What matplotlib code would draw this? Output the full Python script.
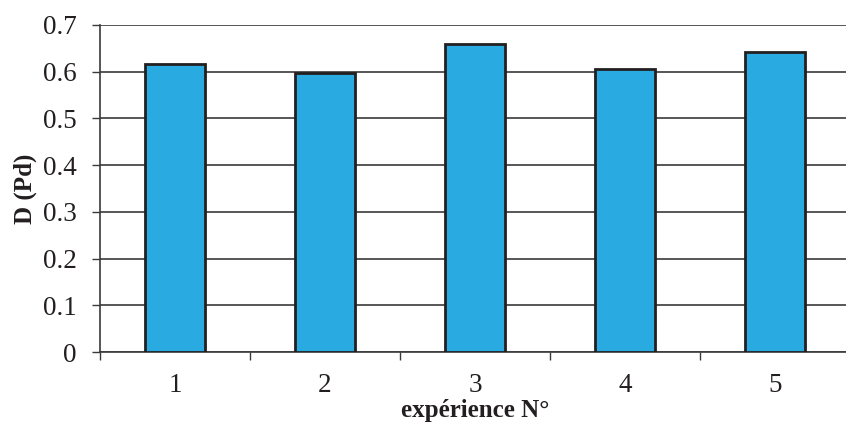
import numpy as np
import matplotlib
matplotlib.use("Agg")
import matplotlib.pyplot as plt

experiences = ["1", "2", "3", "4", "5"]
d_values = [0.616, 0.597, 0.659, 0.606, 0.642]
y_ticks = [0, 0.1, 0.2, 0.3, 0.4, 0.5, 0.6, 0.7]

plt.rcParams['font.family'] = ['Liberation Serif', 'DejaVu Serif']

fig = plt.figure(figsize=(8.46, 4.23), dpi=100)
ax = fig.add_axes([100/846, (423-352)/423, 750/846, 327/423])

x = np.arange(len(experiences))
ax.bar(x, d_values, width=0.4, color='#29abe2', edgecolor='#231f20', linewidth=2, zorder=3)

ax.set_xlim(-0.5, 4.5)
ax.set_ylim(0, 0.7)
ax.set_yticks(y_ticks)
ax.set_yticklabels(["0" if v == 0 else "%.1f" % v for v in y_ticks])
ax.yaxis.grid(True, color='#3a3a3a', lw=1.2, zorder=0)
ax.set_axisbelow(True)

ax.set_xticks(x)
ax.set_xticklabels(experiences)
ax.set_xticks(np.arange(-0.5, 5, 1), minor=True)
ax.tick_params(axis='x', which='major', length=0, pad=15, labelsize=19.5, colors='#231f20')
ax.tick_params(axis='x', which='minor', length=5.8, width=1, direction='out', color='#3a3a3a')
ax.tick_params(axis='y', length=5.8, width=1, direction='out', labelsize=19.5, pad=11, color='#3a3a3a', labelcolor='#231f20')

for s in ['top', 'right']:
    ax.spines[s].set_visible(False)
ax.spines['left'].set_color('#3a3a3a')
ax.spines['bottom'].set_color('#3a3a3a')
ax.spines['left'].set_linewidth(1.2)
ax.spines['bottom'].set_linewidth(1.2)

ax.set_xlabel("expérience N°", fontsize=18, fontweight='bold', labelpad=1, color='#231f20')
ax.set_ylabel("D (Pd)", fontsize=18, fontweight='bold', labelpad=4, color='#231f20')

fig.savefig("out.png", dpi=100)
